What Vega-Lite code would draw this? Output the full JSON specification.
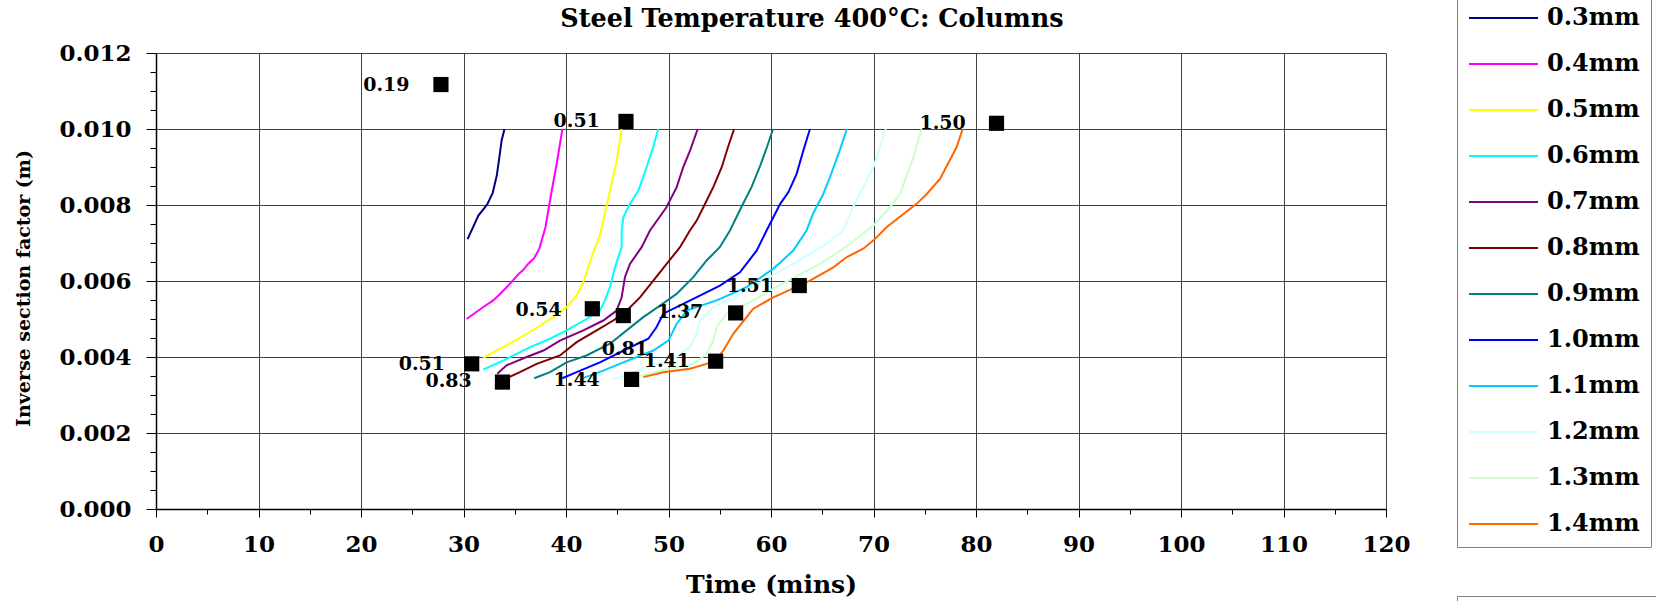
{
  "$schema": "https://vega.github.io/schema/vega-lite/v6.json",
  "autosize": {"type": "none"},
  "width": 1230,
  "height": 456,
  "padding": {"left": 156, "top": 53, "right": 270, "bottom": 92},
  "background": "white",
  "config": {"view": {"stroke": null}},
  "title": {"text": "Steel Temperature 400°C: Columns", "font": "DejaVu Serif", "fontWeight": "bold", "fontSize": 25.5, "color": "black", "anchor": "middle", "frame": "group", "dx": 41, "offset": 0, "baseline": "alphabetic", "dy": 58},
  "datasets": {
    "curves": [
      {"s":"0.3mm","t":30.4,"v":0.00710},{"s":"0.3mm","t":31.45,"v":0.00772},{"s":"0.3mm","t":32.3,"v":0.00801},{"s":"0.3mm","t":32.85,"v":0.00832},{"s":"0.3mm","t":33.25,"v":0.00878},{"s":"0.3mm","t":33.5,"v":0.00926},{"s":"0.3mm","t":33.72,"v":0.00970},{"s":"0.3mm","t":34.0,"v":0.01000},
      {"s":"0.4mm","t":30.3,"v":0.00500},{"s":"0.4mm","t":31.9,"v":0.00531},{"s":"0.4mm","t":32.9,"v":0.00549},{"s":"0.4mm","t":33.56,"v":0.00566},{"s":"0.4mm","t":34.54,"v":0.00593},{"s":"0.4mm","t":35.4,"v":0.00619},{"s":"0.4mm","t":35.8,"v":0.00628},{"s":"0.4mm","t":36.3,"v":0.00645},{"s":"0.4mm","t":36.9,"v":0.00660},{"s":"0.4mm","t":37.4,"v":0.00685},{"s":"0.4mm","t":38.0,"v":0.00742},{"s":"0.4mm","t":38.55,"v":0.00829},{"s":"0.4mm","t":39.1,"v":0.00910},{"s":"0.4mm","t":39.65,"v":0.01000},
      {"s":"0.5mm","t":31.93,"v":0.00398},{"s":"0.5mm","t":33.56,"v":0.00422},{"s":"0.5mm","t":35.5,"v":0.00450},{"s":"0.5mm","t":37.14,"v":0.00477},{"s":"0.5mm","t":38.76,"v":0.00505},{"s":"0.5mm","t":40.06,"v":0.00531},{"s":"0.5mm","t":41.04,"v":0.00562},{"s":"0.5mm","t":41.7,"v":0.00597},{"s":"0.5mm","t":42.5,"v":0.00663},{"s":"0.5mm","t":43.3,"v":0.00720},{"s":"0.5mm","t":44.3,"v":0.00838},{"s":"0.5mm","t":44.95,"v":0.00917},{"s":"0.5mm","t":45.43,"v":0.01000},
      {"s":"0.6mm","t":31.93,"v":0.00367},{"s":"0.6mm","t":33.9,"v":0.00391},{"s":"0.6mm","t":36.5,"v":0.00426},{"s":"0.6mm","t":38.44,"v":0.00448},{"s":"0.6mm","t":40.06,"v":0.00470},{"s":"0.6mm","t":42.0,"v":0.00500},{"s":"0.6mm","t":43.3,"v":0.00522},{"s":"0.6mm","t":43.8,"v":0.00549},{"s":"0.6mm","t":44.29,"v":0.00584},{"s":"0.6mm","t":44.78,"v":0.00636},{"s":"0.6mm","t":45.43,"v":0.00689},{"s":"0.6mm","t":45.43,"v":0.00733},{"s":"0.6mm","t":45.6,"v":0.00768},{"s":"0.6mm","t":46.24,"v":0.00803},{"s":"0.6mm","t":47.06,"v":0.00838},{"s":"0.6mm","t":47.87,"v":0.00900},{"s":"0.6mm","t":48.5,"v":0.00952},{"s":"0.6mm","t":49.0,"v":0.01000},
      {"s":"0.7mm","t":33.3,"v":0.00356},{"s":"0.7mm","t":34.2,"v":0.00378},{"s":"0.7mm","t":36.16,"v":0.00400},{"s":"0.7mm","t":37.8,"v":0.00417},{"s":"0.7mm","t":39.41,"v":0.00443},{"s":"0.7mm","t":41.69,"v":0.00470},{"s":"0.7mm","t":43.64,"v":0.00496},{"s":"0.7mm","t":44.94,"v":0.00522},{"s":"0.7mm","t":45.43,"v":0.00557},{"s":"0.7mm","t":45.75,"v":0.00610},{"s":"0.7mm","t":46.24,"v":0.00645},{"s":"0.7mm","t":47.38,"v":0.00689},{"s":"0.7mm","t":48.19,"v":0.00733},{"s":"0.7mm","t":49.8,"v":0.00794},{"s":"0.7mm","t":50.8,"v":0.00847},{"s":"0.7mm","t":51.44,"v":0.00900},{"s":"0.7mm","t":52.1,"v":0.00943},{"s":"0.7mm","t":52.85,"v":0.01000},
      {"s":"0.8mm","t":34.2,"v":0.00344},{"s":"0.8mm","t":35.5,"v":0.00360},{"s":"0.8mm","t":37.14,"v":0.00382},{"s":"0.8mm","t":39.41,"v":0.00404},{"s":"0.8mm","t":41.04,"v":0.00439},{"s":"0.8mm","t":42.99,"v":0.00470},{"s":"0.8mm","t":44.61,"v":0.00496},{"s":"0.8mm","t":45.92,"v":0.00522},{"s":"0.8mm","t":47.22,"v":0.00557},{"s":"0.8mm","t":48.52,"v":0.00601},{"s":"0.8mm","t":49.82,"v":0.00645},{"s":"0.8mm","t":51.12,"v":0.00689},{"s":"0.8mm","t":52.09,"v":0.00733},{"s":"0.8mm","t":52.75,"v":0.00759},{"s":"0.8mm","t":53.4,"v":0.00794},{"s":"0.8mm","t":54.37,"v":0.00847},{"s":"0.8mm","t":55.2,"v":0.00900},{"s":"0.8mm","t":55.8,"v":0.00952},{"s":"0.8mm","t":56.4,"v":0.01000},
      {"s":"0.9mm","t":36.9,"v":0.00344},{"s":"0.9mm","t":38.44,"v":0.00360},{"s":"0.9mm","t":40.06,"v":0.00386},{"s":"0.9mm","t":42.0,"v":0.00404},{"s":"0.9mm","t":44.29,"v":0.00435},{"s":"0.9mm","t":45.92,"v":0.00470},{"s":"0.9mm","t":47.54,"v":0.00505},{"s":"0.9mm","t":49.17,"v":0.00535},{"s":"0.9mm","t":50.79,"v":0.00566},{"s":"0.9mm","t":52.42,"v":0.00610},{"s":"0.9mm","t":53.72,"v":0.00654},{"s":"0.9mm","t":55.0,"v":0.00689},{"s":"0.9mm","t":56.0,"v":0.00733},{"s":"0.9mm","t":57.1,"v":0.00794},{"s":"0.9mm","t":58.1,"v":0.00847},{"s":"0.9mm","t":58.9,"v":0.00900},{"s":"0.9mm","t":59.6,"v":0.00952},{"s":"0.9mm","t":60.2,"v":0.01000},
      {"s":"1.0mm","t":39.64,"v":0.00344},{"s":"1.0mm","t":41.04,"v":0.00360},{"s":"1.0mm","t":43.31,"v":0.00386},{"s":"1.0mm","t":45.92,"v":0.00421},{"s":"1.0mm","t":48.03,"v":0.00448},{"s":"1.0mm","t":48.84,"v":0.00479},{"s":"1.0mm","t":49.49,"v":0.00514},{"s":"1.0mm","t":52.42,"v":0.00553},{"s":"1.0mm","t":55.02,"v":0.00588},{"s":"1.0mm","t":56.97,"v":0.00623},{"s":"1.0mm","t":58.6,"v":0.00680},{"s":"1.0mm","t":59.57,"v":0.00733},{"s":"1.0mm","t":60.9,"v":0.00803},{"s":"1.0mm","t":61.7,"v":0.00834},{"s":"1.0mm","t":62.5,"v":0.00882},{"s":"1.0mm","t":63.15,"v":0.00943},{"s":"1.0mm","t":63.8,"v":0.01000},
      {"s":"1.1mm","t":41.5,"v":0.00343},{"s":"1.1mm","t":43.64,"v":0.00364},{"s":"1.1mm","t":45.59,"v":0.00386},{"s":"1.1mm","t":48.52,"v":0.00417},{"s":"1.1mm","t":49.98,"v":0.00443},{"s":"1.1mm","t":50.79,"v":0.00487},{"s":"1.1mm","t":51.77,"v":0.00522},{"s":"1.1mm","t":54.69,"v":0.00549},{"s":"1.1mm","t":57.62,"v":0.00584},{"s":"1.1mm","t":60.22,"v":0.00632},{"s":"1.1mm","t":62.17,"v":0.00680},{"s":"1.1mm","t":63.47,"v":0.00733},{"s":"1.1mm","t":64.1,"v":0.00777},{"s":"1.1mm","t":65.1,"v":0.00829},{"s":"1.1mm","t":65.75,"v":0.00873},{"s":"1.1mm","t":66.7,"v":0.00943},{"s":"1.1mm","t":67.4,"v":0.01000},
      {"s":"1.2mm","t":44.5,"v":0.00342},{"s":"1.2mm","t":45.27,"v":0.00347},{"s":"1.2mm","t":47.87,"v":0.00373},{"s":"1.2mm","t":50.47,"v":0.00395},{"s":"1.2mm","t":52.09,"v":0.00426},{"s":"1.2mm","t":52.74,"v":0.00461},{"s":"1.2mm","t":53.07,"v":0.00496},{"s":"1.2mm","t":54.37,"v":0.00531},{"s":"1.2mm","t":56.97,"v":0.00566},{"s":"1.2mm","t":59.9,"v":0.00610},{"s":"1.2mm","t":62.17,"v":0.00645},{"s":"1.2mm","t":65.43,"v":0.00698},{"s":"1.2mm","t":67.05,"v":0.00733},{"s":"1.2mm","t":68.0,"v":0.00794},{"s":"1.2mm","t":70.0,"v":0.00900},{"s":"1.2mm","t":71.2,"v":0.01000},
      {"s":"1.3mm","t":47.2,"v":0.00350},{"s":"1.3mm","t":49.17,"v":0.00364},{"s":"1.3mm","t":52.42,"v":0.00382},{"s":"1.3mm","t":53.72,"v":0.00408},{"s":"1.3mm","t":54.37,"v":0.00443},{"s":"1.3mm","t":54.69,"v":0.00479},{"s":"1.3mm","t":55.67,"v":0.00514},{"s":"1.3mm","t":58.0,"v":0.00545},{"s":"1.3mm","t":60.5,"v":0.00584},{"s":"1.3mm","t":64.78,"v":0.00645},{"s":"1.3mm","t":67.06,"v":0.00685},{"s":"1.3mm","t":70.0,"v":0.00746},{"s":"1.3mm","t":71.6,"v":0.00794},{"s":"1.3mm","t":72.6,"v":0.00829},{"s":"1.3mm","t":73.9,"v":0.00926},{"s":"1.3mm","t":74.7,"v":0.01000},
      {"s":"1.4mm","t":47.54,"v":0.00347},{"s":"1.4mm","t":49.49,"v":0.00360},{"s":"1.4mm","t":52.09,"v":0.00369},{"s":"1.4mm","t":53.72,"v":0.00382},{"s":"1.4mm","t":54.6,"v":0.00392},{"s":"1.4mm","t":55.35,"v":0.00417},{"s":"1.4mm","t":56.32,"v":0.00461},{"s":"1.4mm","t":57.62,"v":0.00505},{"s":"1.4mm","t":58.27,"v":0.00527},{"s":"1.4mm","t":60.22,"v":0.00557},{"s":"1.4mm","t":62.76,"v":0.00588},{"s":"1.4mm","t":63.8,"v":0.00601},{"s":"1.4mm","t":66.08,"v":0.00636},{"s":"1.4mm","t":67.4,"v":0.00663},{"s":"1.4mm","t":69.0,"v":0.00685},{"s":"1.4mm","t":70.0,"v":0.00707},{"s":"1.4mm","t":71.3,"v":0.00742},{"s":"1.4mm","t":74.2,"v":0.00803},{"s":"1.4mm","t":75.2,"v":0.00829},{"s":"1.4mm","t":76.5,"v":0.00869},{"s":"1.4mm","t":78.1,"v":0.00952},{"s":"1.4mm","t":78.7,"v":0.01000}
    ],
    "points": [
      {"k":"Limits","t":27.8,"v":0.01117},{"k":"Limits","t":45.85,"v":0.01020},{"k":"Limits","t":82.0,"v":0.01015},{"k":"Limits","t":42.57,"v":0.00527},{"k":"Limits","t":45.59,"v":0.00509},{"k":"Limits","t":56.55,"v":0.00516},{"k":"Limits","t":62.76,"v":0.00588},{"k":"Limits","t":30.8,"v":0.00382},{"k":"Limits","t":33.8,"v":0.00334},{"k":"Limits","t":46.4,"v":0.00341},{"k":"Limits","t":54.6,"v":0.00389}
    ],
    "labels": [
      {"txt":"0.19","t":24.73,"v":0.01117},{"txt":"0.51","t":43.3,"v":0.01022},{"txt":"1.50","t":79.0,"v":0.01015},{"txt":"0.54","t":39.58,"v":0.00524},{"txt":"1.37","t":53.4,"v":0.00518},{"txt":"1.51","t":60.2,"v":0.00588},{"txt":"0.51","t":28.2,"v":0.00382},{"txt":"0.83","t":30.8,"v":0.00336},{"txt":"1.44","t":43.3,"v":0.00340},{"txt":"0.81","t":48.0,"v":0.00422},{"txt":"1.41","t":52.1,"v":0.00389}
    ]
  },
  "encoding": {
    "x": {"field": "t", "type": "quantitative",
      "scale": {"domain": [0, 120], "nice": false, "zero": false},
      "axis": {
        "values": [0,5,10,15,20,25,30,35,40,45,50,55,60,65,70,75,80,85,90,95,100,105,110,115,120],
        "labelExpr": "datum.value % 10 === 0 ? datum.label : ''",
        "grid": true, "gridColor": "#404040", "gridWidth": 1,
        "gridOpacity": {"condition": {"test": "datum.value % 10 !== 0", "value": 0}, "value": 1},
        "tickSize": {"condition": {"test": "datum.value % 10 !== 0", "value": 5}, "value": 8},
        "tickColor": "black", "domainColor": "black", "domainWidth": 1.5,
        "labelFont": "DejaVu Serif", "labelFontWeight": "bold", "labelFontSize": 23, "labelColor": "black",
        "labelPadding": 16, "labelOverlap": false, "labelFlush": false,
        "title": "Time (mins)", "titleFont": "DejaVu Serif", "titleFontWeight": "bold", "titleFontSize": 25, "titleColor": "black",
        "titleY": 83, "titleBaseline": "alphabetic"
      }
    },
    "y": {"field": "v", "type": "quantitative",
      "scale": {"domain": [0, 0.012], "nice": false, "zero": false},
      "axis": {
        "values": [0,0.0005,0.001,0.0015,0.002,0.0025,0.003,0.0035,0.004,0.0045,0.005,0.0055,0.006,0.0065,0.007,0.0075,0.008,0.0085,0.009,0.0095,0.01,0.0105,0.011,0.0115,0.012],
        "labelExpr": "round(datum.value*10000) % 20 === 0 ? format(datum.value, '.3f') : ''",
        "grid": true, "gridColor": "#404040", "gridWidth": 1,
        "gridOpacity": {"condition": {"test": "round(datum.value*10000) % 20 !== 0", "value": 0}, "value": 1},
        "tickSize": {"condition": {"test": "round(datum.value*10000) % 20 !== 0", "value": 6}, "value": 10},
        "tickColor": "black", "domainColor": "black", "domainWidth": 1.5,
        "labelFont": "DejaVu Serif", "labelFontWeight": "bold", "labelFontSize": 23, "labelColor": "black",
        "labelPadding": 15, "labelOverlap": false, "labelFlush": false,
        "title": "Inverse section factor (m)", "titleFont": "DejaVu Serif", "titleFontWeight": "bold", "titleFontSize": 19, "titleColor": "black",
        "titleX": -133, "titleY": 235, "titleAngle": -90, "titleAlign": "center", "titleBaseline": "middle"
      }
    }
  },
  "layer": [
    {
      "data": {"name": "curves"},
      "mark": {"type": "line", "strokeWidth": 2},
      "encoding": {
        "color": {"field": "s", "type": "nominal",
          "scale": {"domain": ["0.3mm","0.4mm","0.5mm","0.6mm","0.7mm","0.8mm","0.9mm","1.0mm","1.1mm","1.2mm","1.3mm","1.4mm"],
                    "range": ["#000080","#FF00FF","#FFFF00","#00FFFF","#800080","#800000","#008080","#0000FF","#00CCFF","#CCFFFF","#CCFFCC","#FF6600"]},
          "legend": {"title": null, "orient": "none", "legendX": 1301, "legendY": -58,
            "symbolType": "stroke", "symbolSize": 4761, "symbolStrokeWidth": 2, "clipHeight": 24,
            "labelFont": "DejaVu Serif", "labelFontWeight": "bold", "labelFontSize": 24, "labelColor": "black", "labelLimit": 0,
            "strokeColor": "#808080", "fillColor": "white", "padding": 11, "labelOffset": 8, "rowPadding": 22, "cornerRadius": 0}
        },
        "order": {"field": "v", "type": "quantitative"}
      }
    },
    {
      "data": {"name": "points"},
      "mark": {"type": "point", "filled": true, "size": 230, "color": "black", "opacity": 1},
      "encoding": {
        "shape": {"field": "k", "type": "nominal", "scale": {"range": ["square"]},
          "legend": {"title": null, "orient": "none", "legendX": 1301, "legendY": 543,
            "symbolFillColor": "black", "symbolStrokeColor": "black", "symbolSize": 230, "clipHeight": 24,
            "labelExpr": "''", "labelFontSize": 24, "labelLimit": 0,
            "strokeColor": "#808080", "fillColor": "white", "padding": 11, "labelOffset": 158, "cornerRadius": 0}
        }
      }
    },
    {
      "data": {"name": "labels"},
      "mark": {"type": "text", "align": "right", "baseline": "middle", "font": "DejaVu Serif", "fontWeight": "bold", "fontSize": 19, "color": "black"},
      "encoding": {"text": {"field": "txt", "type": "nominal"}}
    }
  ]
}
